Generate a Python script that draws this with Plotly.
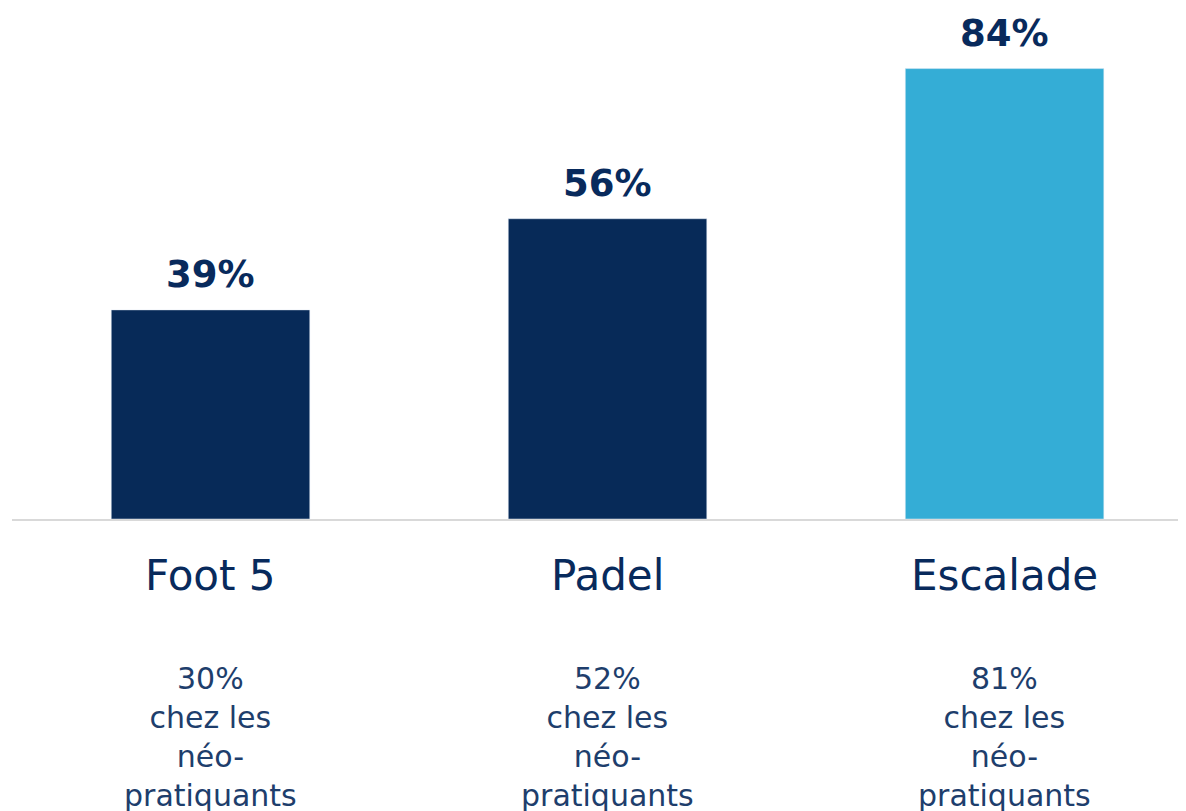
import plotly.graph_objects as go

categories = ["Foot 5", "Padel", "Escalade"]
values = [39, 56, 84]
neo_values = [30, 52, 81]
bar_colors = ["#072A58", "#072A58", "#34ADD6"]

NAVY = "#082A5C"
SUB = "#1E3E6C"
FONT = "DejaVu Sans, sans-serif"

fig = go.Figure()
fig.add_trace(go.Bar(
    x=categories, y=values, marker_color=bar_colors, width=0.5,
    hoverinfo="skip",
))

annotations = []
for cat, v, nv in zip(categories, values, neo_values):
    annotations.append(dict(
        x=cat, y=v, xref="x", yref="y", text=f"<b>{v}%</b>",
        showarrow=False, yanchor="bottom", yshift=12,
        font=dict(family=FONT, size=37, color=NAVY),
    ))
    annotations.append(dict(
        x=cat, y=0, xref="x", yref="y", text=cat,
        showarrow=False, yanchor="middle", yshift=-56,
        font=dict(family=FONT, size=42, color=NAVY),
    ))
    annotations.append(dict(
        x=cat, y=0, xref="x", yref="y",
        text=f"{nv}%<br>chez les<br>néo-<br>pratiquants",
        showarrow=False, yanchor="top", yshift=-140,
        font=dict(family=FONT, size=30, color=SUB),
    ))

# the page body adds an 8px offset, so the figure is sized to fit the window
fig.update_layout(
    width=1178, height=803,
    margin=dict(l=4, r=0, t=0, b=292),
    plot_bgcolor="white", paper_bgcolor="white",
    showlegend=False,
    annotations=annotations,
    xaxis=dict(
        range=[-0.5, 2.457], showticklabels=False, ticks="",
        showline=True, linecolor="#D9D9D9", linewidth=2,
        showgrid=False, zeroline=False, fixedrange=True,
    ),
    yaxis=dict(
        range=[0, 95.3], visible=False, showgrid=False,
        zeroline=False, fixedrange=True,
    ),
)

fig.write_html("out.html", config={"displayModeBar": False})
